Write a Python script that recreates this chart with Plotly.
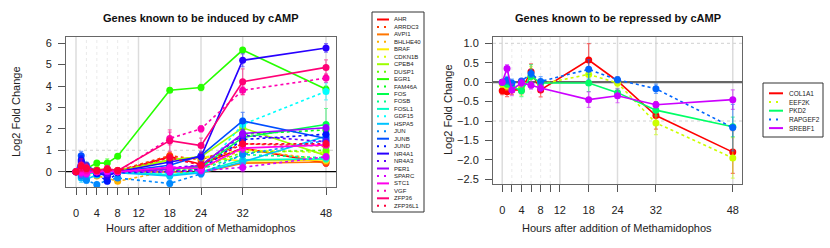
import colorsys
import plotly.graph_objects as go

W, H = 830, 248

# ---------------- data ----------------
hours = [0, 1, 2, 4, 6, 8, 18, 24, 32, 48]
x_tickvals = [0, 2, 4, 6, 8, 10, 12, 18, 24, 32, 48]
x_ticktext = ["0", "", "4", "", "8", "", "12", "18", "24", "32", "48"]
left_yticks = [0, 1, 2, 3, 4, 5, 6]
right_yticks = [-2.5, -2.0, -1.5, -1.0, -0.5, 0.0, 0.5, 1.0]

induced_genes = ["AHR", "ARRDC3", "AVPI1", "BHLHE40", "BRAF", "CDKN1B", "CPEB4", "DUSP1",
                 "EGR1", "FAM46A", "FOS", "FOSB", "FOSL1", "GDF15", "HSPA5", "JUN", "JUNB",
                 "JUND", "NR4A1", "NR4A3", "PER1", "SPARC", "STC1", "VGF", "ZFP36", "ZFP36L1"]

AHR     = [0, 0.05, -0.05, 0.00, 0.05, 0.00, 0.70, 0.35, 1.10, 0.40]
ARRDC3  = [0, 0.10, 0.00, 0.05, 0.00, 0.05, 0.75, 0.55, 1.30, 1.20]
AVPI1   = [0, -0.05, 0.00, -0.05, 0.00, 0.00, 0.00, -0.05, 0.40, 0.45]
BHLHE40 = [0, -0.10, -0.15, -0.20, -0.30, -0.45, 0.05, 0.10, 1.05, 0.55]
BRAF    = [0, 0.00, 0.05, 0.00, 0.05, 0.00, 0.55, 0.70, 0.50, 0.55]
CDKN1B  = [0, 0.05, 0.00, 0.10, 0.10, 0.05, 0.50, 0.65, 1.00, 0.90]
CPEB4   = [0, 0.00, 0.05, 0.10, 0.10, 0.05, 0.55, 0.70, 2.05, 0.75]
DUSP1   = [0, 0.10, 0.05, 0.00, 0.10, 0.00, 0.10, 0.20, 0.90, 1.00]
EGR1    = [0, 0.10, 0.15, 0.40, 0.40, 0.72, 3.80, 3.93, 5.68, 3.85]
FAM46A  = [0, 0.00, -0.05, 0.05, 0.00, 0.00, 0.05, 0.30, 1.75, 1.95]
FOS     = [0, 0.05, 0.00, 0.05, 0.05, 0.00, 0.15, 0.20, 1.60, 2.20]
FOSB    = [0, 0.05, 0.00, 0.05, 0.00, 0.00, 0.05, 0.10, 0.80, 0.65]
FOSL1   = [0, -0.05, -0.10, -0.05, -0.05, 0.00, -0.15, 0.00, 0.55, 0.60]
GDF15   = [0, -0.10, -0.20, -0.10, -0.05, 0.00, -0.10, 0.00, 2.20, 3.75]
HSPA5   = [0, -0.30, -0.35, -0.15, -0.10, -0.05, -0.20, -0.05, 0.45, 1.65]
JUN     = [0, -0.20, -0.40, -0.60, -0.40, -0.30, -0.55, -0.10, 0.80, 1.45]
JUNB    = [0, 0.75, 0.30, 0.00, -0.20, 0.00, 0.30, 0.75, 2.37, 1.55]
JUND    = [0, 0.55, 0.10, -0.10, -0.45, -0.05, 0.00, 0.10, 1.50, 1.75]
NR4A1   = [0, 0.45, 0.15, -0.05, -0.20, 0.00, 0.45, 0.70, 5.20, 5.78]
NR4A3   = [0, 0.30, 0.10, 0.00, -0.10, 0.00, 0.20, 0.30, 1.70, 1.40]
PER1    = [0, 0.20, 0.10, 0.00, 0.05, 0.00, 0.10, 0.30, 1.78, 2.05]
SPARC   = [0, -0.05, -0.10, 0.00, 0.00, 0.00, 0.00, 0.05, 0.20, 0.70]
STC1    = [0, 0.00, -0.05, 0.00, 0.05, 0.00, 0.20, 0.15, 1.10, 1.25]
VGF     = [0, 0.20, 0.05, 0.00, 0.10, 0.00, 1.55, 2.00, 3.80, 4.37]
ZFP36   = [0, 0.30, 0.20, 0.05, 0.15, 0.05, 1.45, 1.22, 4.20, 4.87]
ZFP36L1 = [0, 0.25, 0.15, 0.05, 0.10, 0.05, 0.65, 0.30, 1.30, 1.30]

induced_values = [AHR, ARRDC3, AVPI1, BHLHE40, BRAF, CDKN1B, CPEB4, DUSP1, EGR1, FAM46A,
                  FOS, FOSB, FOSL1, GDF15, HSPA5, JUN, JUNB, JUND, NR4A1, NR4A3, PER1,
                  SPARC, STC1, VGF, ZFP36, ZFP36L1]

small_err = [0.05, 0.20, 0.15, 0.10, 0.12, 0.10, 0.15, 0.15, 0.20, 0.15]
EGR1_err  = [0.05, 0.15, 0.12, 0.10, 0.20, 0.10, 0.10, 0.15, 0.12, 0.15]
NR4A1_err = [0.05, 0.25, 0.20, 0.10, 0.15, 0.10, 0.15, 0.20, 0.30, 0.20]
ZFP36_err = [0.05, 0.30, 0.20, 0.10, 0.15, 0.10, 0.50, 0.35, 0.60, 0.35]
VGF_err   = [0.05, 0.20, 0.15, 0.10, 0.12, 0.10, 0.30, 0.15, 0.20, 0.20]
FOS_err   = [0.05, 0.15, 0.12, 0.10, 0.12, 0.10, 0.12, 0.15, 0.40, 0.75]
JUNB_err  = [0.05, 0.20, 0.15, 0.10, 0.15, 0.10, 0.12, 0.20, 0.40, 0.20]
GDF15_err = [0.05, 0.15, 0.15, 0.10, 0.12, 0.10, 0.12, 0.15, 0.30, 0.40]

repressed_genes = ["COL1A1", "EEF2K", "PKD2", "RAPGEF2", "SREBF1"]
COL1A1  = [-0.22, -0.25, -0.20, -0.20, 0.27, -0.20, 0.57, 0.03, -0.86, -1.80]
EEF2K   = [-0.05, -0.10, -0.15, -0.15, 0.15, -0.05, 0.20, -0.02, -1.05, -1.95]
PKD2    = [0.00, -0.05, -0.10, -0.22, 0.15, -0.02, -0.02, -0.27, -0.72, -1.15]
RAPGEF2 = [0.00, 0.05, -0.02, 0.03, 0.22, 0.02, 0.33, 0.06, -0.17, -1.17]
SREBF1  = [0.00, 0.35, -0.20, -0.02, -0.08, -0.15, -0.45, -0.35, -0.58, -0.45]
repressed_values = [COL1A1, EEF2K, PKD2, RAPGEF2, SREBF1]

COL1A1_err  = [0.10, 0.12, 0.12, 0.10, 0.20, 0.18, 0.42, 0.10, 0.35, 0.55]
EEF2K_err   = [0.08, 0.10, 0.10, 0.20, 0.25, 0.10, 0.20, 0.10, 0.30, 0.52]
PKD2_err    = [0.05, 0.08, 0.10, 0.15, 0.30, 0.10, 0.22, 0.10, 0.15, 0.25]
RAPGEF2_err = [0.05, 0.10, 0.10, 0.05, 0.10, 0.12, 0.25, 0.08, 0.12, 0.60]
SREBF1_err  = [0.05, 0.10, 0.15, 0.10, 0.10, 0.10, 0.20, 0.18, 0.08, 0.25]
repressed_errs = [COL1A1_err, EEF2K_err, PKD2_err, RAPGEF2_err, SREBF1_err]

special_err = {"EGR1": EGR1_err, "NR4A1": NR4A1_err, "ZFP36": ZFP36_err, "VGF": VGF_err,
               "FOS": FOS_err, "JUNB": JUNB_err, "GDF15": GDF15_err}
induced_errs = [special_err.get(g, small_err) for g in induced_genes]


# ---------------- style ----------------
def rainbow(n):
    out = []
    for i in range(n):
        r, g, b = colorsys.hsv_to_rgb(i / n, 1, 1)
        out.append((int(round(r * 255)), int(round(g * 255)), int(round(b * 255))))
    return out


def hexc(c):
    return "#%02X%02X%02X" % c


def rgba(c, a):
    return "rgba(%d,%d,%d,%.2f)" % (c[0], c[1], c[2], a)


FONT = "Liberation Sans, Arial, Helvetica, sans-serif"
XR = [-1.92, 49.92]
L_DOM_X = [66 / W, 336 / W]
L_DOM_Y = [1 - 187 / H, 1 - 37 / H]
R_DOM_X = [493 / W, 742 / W]
R_DOM_Y = [1 - 184 / H, 1 - 37 / H]

fig = go.Figure()


def add_series(names, values, errs, xa, ya):
    cols = rainbow(len(names))
    for i, (name, vals, err) in enumerate(zip(names, values, errs)):
        c = cols[i]
        fig.add_trace(go.Scatter(
            x=hours, y=vals, name=name, mode="lines+markers", xaxis=xa, yaxis=ya,
            line=dict(color=hexc(c), width=1.6, dash="solid" if i % 2 == 0 else "dot"),
            marker=dict(color=hexc(c), size=7),
            error_y=dict(type="data", array=err, visible=True, color=rgba(c, 0.55),
                         thickness=1.2, width=2),
            showlegend=False,
        ))


add_series(induced_genes, induced_values, induced_errs, "x", "y")
add_series(repressed_genes, repressed_values, repressed_errs, "x2", "y2")

shapes = []
# vertical reference lines
for xa, ya in (("x", "y"), ("x2", "y2")):
    for v in [0, 12, 18, 24, 32, 48]:
        shapes.append(dict(type="line", xref=xa, yref=ya + " domain", x0=v, x1=v, y0=0, y1=1,
                           line=dict(color="#DCDCDC", width=1.5), layer="below"))
    for v in [2, 4, 6, 8, 10]:
        shapes.append(dict(type="line", xref=xa, yref=ya + " domain", x0=v, x1=v, y0=0, y1=1,
                           line=dict(color="#EAEAEA", width=1, dash="dot"), layer="below"))
# horizontal reference lines
shapes.append(dict(type="line", xref="x domain", yref="y", x0=0, x1=1, y0=0, y1=0,
                   line=dict(color="black", width=1.2), layer="below"))
shapes.append(dict(type="line", xref="x domain", yref="y", x0=0, x1=1, y0=1, y1=1,
                   line=dict(color="#D0D0D0", width=1, dash="dot"), layer="below"))
shapes.append(dict(type="line", xref="x2 domain", yref="y2", x0=0, x1=1, y0=0, y1=0,
                   line=dict(color="#666666", width=2.2), layer="below"))
for v in (1, -1):
    shapes.append(dict(type="line", xref="x2 domain", yref="y2", x0=0, x1=1, y0=v, y1=v,
                       line=dict(color="#D0D0D0", width=1, dash="dot"), layer="below"))

annotations = []


def px(x):
    return x / W


def py(y):
    return 1 - y / H


def draw_legend(names, box, x_line, x_text, y0, dy, fs):
    cols = rainbow(len(names))
    shapes.append(dict(type="rect", xref="paper", yref="paper",
                       x0=px(box[0]), x1=px(box[2]), y0=py(box[1]), y1=py(box[3]),
                       line=dict(color="#333333", width=1), fillcolor="rgba(0,0,0,0)"))
    for i, name in enumerate(names):
        yy = y0 + i * dy
        shapes.append(dict(type="line", xref="paper", yref="paper",
                           x0=px(x_line[0]), x1=px(x_line[1]), y0=py(yy), y1=py(yy),
                           line=dict(color=hexc(cols[i]), width=2,
                                     dash="solid" if i % 2 == 0 else "2px,5px")))
        annotations.append(dict(text=name, xref="paper", yref="paper", x=px(x_text), y=py(yy),
                                xanchor="left", yanchor="middle", showarrow=False,
                                borderpad=0,
                                font=dict(size=fs, color="#222222", family=FONT)))


draw_legend(induced_genes, (372, 12, 424, 212), (377, 389), 393, 19.5, 7.45, 6)
draw_legend(repressed_genes, (763, 83, 823, 137), (769, 783), 788, 93.3, 8.7, 6.5)

# titles
for text, cx in (("Genes known to be induced by cAMP", 201),
                 ("Genes known to be repressed by cAMP", 618)):
    annotations.append(dict(text="<b>" + text + "</b>", xref="paper", yref="paper",
                            x=px(cx), y=py(18), xanchor="center", yanchor="middle",
                            showarrow=False, font=dict(size=11, color="#111111", family=FONT)))
for cx in (201, 617):
    annotations.append(dict(text="Hours after addition of Methamidophos", xref="paper",
                            yref="paper", x=px(cx), y=py(228), xanchor="center",
                            yanchor="middle", showarrow=False,
                            font=dict(size=11, color="#222222", family=FONT)))
for cx, cy in ((16, 112), (448, 110)):
    annotations.append(dict(text="Log2 Fold Change", xref="paper", yref="paper",
                            x=px(cx), y=py(cy), xanchor="center", yanchor="middle",
                            textangle=-90, showarrow=False,
                            font=dict(size=11, color="#222222", family=FONT)))

axis_common = dict(showgrid=False, zeroline=False, showline=True, mirror=True,
                   linecolor="#666666", linewidth=1, ticks="outside", ticklen=7,
                   tickcolor="#555555", tickwidth=1,
                   tickfont=dict(size=11, color="#222222", family=FONT))

fig.update_layout(
    width=W, height=H, margin=dict(l=0, r=0, t=0, b=0),
    paper_bgcolor="white", plot_bgcolor="white", showlegend=False,
    xaxis=dict(domain=L_DOM_X, range=XR, anchor="y", tickmode="array",
               tickvals=x_tickvals, ticktext=x_ticktext, ticklabelstandoff=9, **axis_common),
    yaxis=dict(domain=L_DOM_Y, range=[-0.715, 6.29], anchor="x", tickmode="array",
               tickvals=left_yticks, ticklabelstandoff=4, **axis_common),
    xaxis2=dict(domain=R_DOM_X, range=XR, anchor="y2", tickmode="array",
                tickvals=x_tickvals, ticktext=x_ticktext, ticklabelstandoff=9, **axis_common),
    yaxis2=dict(domain=R_DOM_Y, range=[-2.621, 1.162], anchor="x2", tickmode="array",
                tickvals=right_yticks, tickformat=".1f", ticklabelstandoff=4, **axis_common),
    shapes=shapes, annotations=annotations,
)

fig.write_html(
    "out.html",
    config={"displayModeBar": False},
    post_script="document.body.style.margin='0';document.body.style.overflow='hidden';",
)
